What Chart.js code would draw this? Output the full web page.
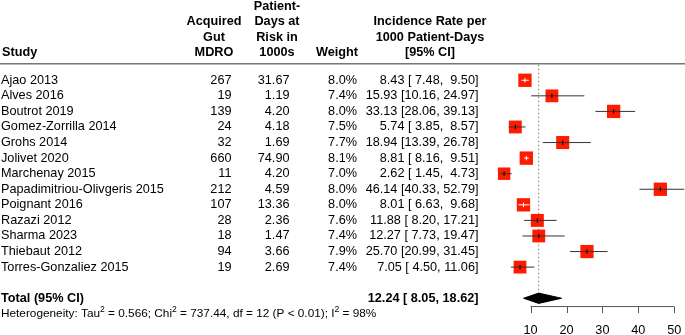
<!DOCTYPE html>
<html>
<head>
<meta charset="utf-8">
<script src="https://cdn.jsdelivr.net/npm/chart.js@4/dist/chart.umd.min.js"></script>
<style>
  body { margin: 0; background: #fff; }
  canvas { display: block; }
</style>
</head>
<body>
<canvas id="forestChart" width="685" height="335"></canvas>
<script>
// Dane badań (wiersze wykresu)
const studies = ['Ajao 2013', 'Alves 2016', 'Boutrot 2019', 'Gomez-Zorrilla 2014', 'Grohs 2014',
  'Jolivet 2020', 'Marchenay 2015', 'Papadimitriou-Olivgeris 2015', 'Poignant 2016',
  'Razazi 2012', 'Sharma 2023', 'Thiebaut 2012', 'Torres-Gonzaliez 2015'];
const events = [267, 19, 139, 24, 32, 660, 11, 212, 107, 28, 18, 94, 19];
const daysAtRisk = [31.67, 1.19, 4.20, 4.18, 1.69, 74.90, 4.20, 4.59, 13.36, 2.36, 1.47, 3.66, 2.69];
const weights = [8.0, 7.4, 8.0, 7.5, 7.7, 8.1, 7.0, 8.0, 8.0, 7.6, 7.4, 7.9, 7.4];
const rate = [8.43, 15.93, 33.13, 5.74, 18.94, 8.81, 2.62, 46.14, 8.01, 11.88, 12.27, 25.70, 7.05];
const lower = [7.48, 10.16, 28.06, 3.85, 13.39, 8.16, 1.45, 40.33, 6.63, 8.20, 7.73, 20.99, 4.50];
const upper = [9.50, 24.97, 39.13, 8.57, 26.78, 9.51, 4.73, 52.79, 9.68, 17.21, 19.47, 31.45, 11.06];

// Wynik łączny
const totalRate = 12.24;
const totalLower = 8.05;
const totalUpper = 18.62;
const heterogeneity = [['Heterogeneity: Tau', 0], ['2', 1], [' = 0.566; Chi', 0], ['2', 1],
  [' = 737.44, df = 12 (P < 0.01); I', 0], ['2', 1], [' = 98%', 0]];

// Etykiety osi X
const xTicks = [10, 20, 30, 40, 50];

const FONT = '"Liberation Sans", Arial, sans-serif';
const FS = 12.7;
const rows = studies.map((s, i) => i + 1);
const totalRow = rows.length + 2;
const hetRow = totalRow + 1;

function squareSide(w) {
  return 13.3 * Math.sqrt(w / 8);
}

// czy przedział ufności mieści się w kwadracie -> rysujemy na biało
function ciInside(chart, i) {
  const x = chart.scales.x;
  const half = squareSide(weights[i]) / 2;
  const c = x.getPixelForValue(rate[i]);
  return x.getPixelForValue(lower[i]) >= c - half && x.getPixelForValue(upper[i]) <= c + half;
}

const ciPoints = [];
rows.forEach((r, i) => {
  ciPoints.push({x: lower[i], y: r}, {x: upper[i], y: r}, {x: upper[i], y: null});
});

const forestText = {
  id: 'forestText',
  afterDraw(chart) {
    const c = chart.ctx;
    const ys = chart.scales.y;
    const xs = chart.scales.x;
    const top = chart.chartArea.top;
    c.save();
    c.fillStyle = '#000';
    c.textBaseline = 'middle';

    // nagłówki
    c.font = 'bold ' + FS + 'px ' + FONT;
    const hy = k => top - 12 - (4 - k) * 15.5;
    c.textAlign = 'left';
    c.fillText('Study', 2, hy(4));
    c.textAlign = 'center';
    ['Acquired', 'Gut', 'MDRO'].forEach((t, k) => c.fillText(t, 214, hy(k + 2)));
    ['Patient-', 'Days at', 'Risk in', '1000s'].forEach((t, k) => c.fillText(t, 277, hy(k + 1)));
    ['Incidence Rate per', '1000 Patient-Days', '[95% CI]'].forEach((t, k) => c.fillText(t, 430, hy(k + 2)));
    c.textAlign = 'right';
    c.fillText('Weight', 358, hy(4));

    // linia pod nagłówkiem
    c.strokeStyle = '#777';
    c.lineWidth = 1.5;
    c.beginPath();
    c.moveTo(0, top - 1);
    c.lineTo(chart.width, top - 1);
    c.stroke();

    // wiersze
    c.font = FS + 'px ' + FONT;
    const pad = v => v.toFixed(2).padStart(5, ' ');
    rows.forEach((r, i) => {
      const y = ys.getPixelForValue(r);
      c.textAlign = 'left';
      c.fillText(studies[i], 1, y);
      c.textAlign = 'right';
      c.fillText(String(events[i]), 231.5, y);
      c.fillText(daysAtRisk[i].toFixed(2), 289.5, y);
      c.fillText(weights[i].toFixed(1) + '%', 357, y);
      c.fillText(pad(rate[i]) + ' [' + pad(lower[i]) + ', ' + pad(upper[i]) + ']', 478.5, y);
    });

    // suma
    const ty = ys.getPixelForValue(totalRow);
    c.font = 'bold ' + FS + 'px ' + FONT;
    c.textAlign = 'left';
    c.fillText('Total (95% CI)', 1, ty);
    c.textAlign = 'right';
    c.fillText(pad(totalRate) + ' [' + pad(totalLower) + ', ' + pad(totalUpper) + ']', 478.5, ty);

    // heterogeniczność
    const hyPix = ys.getPixelForValue(hetRow);
    c.textAlign = 'left';
    let hx = 1;
    heterogeneity.forEach(([t, sup]) => {
      c.font = (sup ? '8.6px ' : '11.8px ') + FONT;
      c.fillText(t, hx, sup ? hyPix - 4.5 : hyPix);
      hx += c.measureText(t).width;
    });

    // oś X
    const ay = ty + 8.3;
    c.strokeStyle = '#555';
    c.lineWidth = 1;
    c.beginPath();
    c.moveTo(xs.getPixelForValue(xTicks[0]), ay);
    c.lineTo(xs.getPixelForValue(xTicks[xTicks.length - 1]), ay);
    xTicks.forEach(t => {
      const px = Math.round(xs.getPixelForValue(t)) + 0.5;
      c.moveTo(px, ay);
      c.lineTo(px, ay + 6.5);
    });
    c.stroke();
    c.font = FS + 'px ' + FONT;
    c.textAlign = 'center';
    xTicks.forEach(t => c.fillText(String(t), xs.getPixelForValue(t), ay + 24));
    c.restore();
  }
};

const ctx = document.getElementById('forestChart').getContext('2d');
const forestChart = new Chart(ctx, {
  type: 'scatter',
  data: {
    datasets: [
      {
        // linia kropkowana efektu łącznego
        type: 'line',
        data: [{x: totalRate, y: 0}, {x: totalRate, y: totalRow}],
        borderColor: '#777',
        borderWidth: 1,
        borderDash: [1.5, 2.5],
        pointRadius: 0,
        order: 5
      },
      {
        // kwadraty
        data: rows.map((r, i) => ({x: rate[i], y: r})),
        pointStyle: 'rect',
        pointRadius: c => squareSide(weights[c.dataIndex]) / Math.SQRT2,
        backgroundColor: '#ff1a00',
        pointBackgroundColor: '#ff1a00',
        pointBorderWidth: 0,
        borderWidth: 0,
        order: 4
      },
      {
        // romb efektu łącznego
        type: 'line',
        data: [
          {x: totalLower, y: totalRow}, {x: totalRate, y: totalRow - 0.33},
          {x: totalUpper, y: totalRow}, {x: totalRate, y: totalRow + 0.33},
          {x: totalLower, y: totalRow}
        ],
        borderColor: '#000',
        backgroundColor: '#000',
        borderWidth: 1,
        fill: 'shape',
        pointRadius: 0,
        tension: 0,
        order: 3
      },
      {
        // przedziały ufności
        type: 'line',
        data: ciPoints,
        borderColor: '#333',
        borderWidth: 1,
        pointRadius: 0,
        spanGaps: false,
        segment: {
          borderColor: s => ciInside(s.chart, Math.floor(s.p0DataIndex / 3)) ? '#fff' : '#333'
        },
        order: 2
      },
      {
        // znaczniki punktu estymacji
        data: rows.map((r, i) => ({x: rate[i], y: r})),
        pointStyle: 'line',
        pointRadius: 2.2,
        pointRotation: 90,
        pointBorderWidth: 1,
        pointBorderColor: c => ciInside(c.chart, c.dataIndex) ? '#fff' : '#000',
        order: 1
      }
    ]
  },
  options: {
    responsive: false,
    animation: false,
    events: [],
    layout: {
      autoPadding: false,
      padding: {left: 494.7, right: 0, top: 64.7, bottom: 5.6}
    },
    scales: {
      x: {type: 'linear', min: 0, max: 53, display: false},
      y: {type: 'linear', min: 0, max: 17, reverse: true, display: false}
    },
    plugins: {
      legend: {display: false},
      tooltip: {enabled: false}
    },
    datasets: {
      line: {clip: false},
      scatter: {clip: false}
    }
  },
  plugins: [forestText]
});
</script>
</body>
</html>
